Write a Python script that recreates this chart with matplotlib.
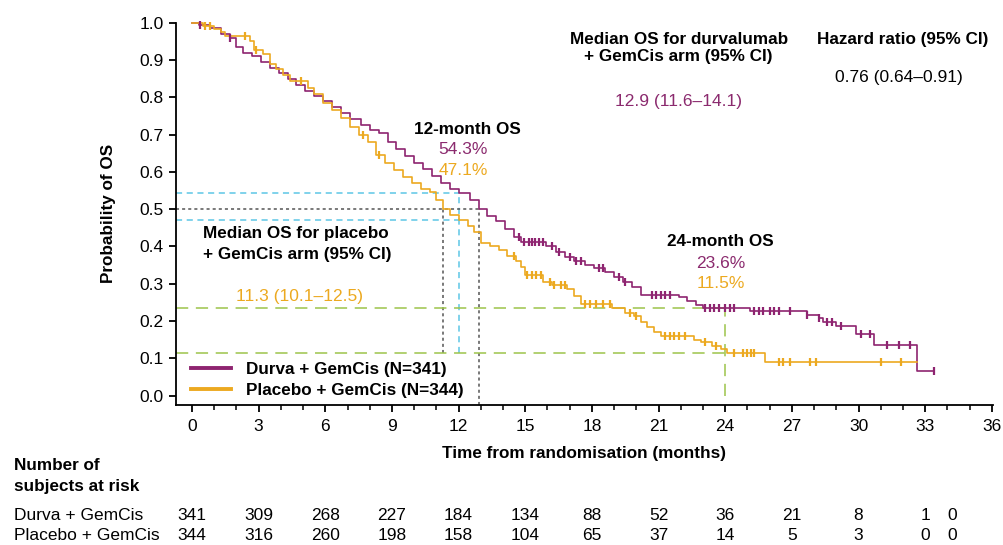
"""
Kaplan-Meier overall survival: durvalumab + GemCis vs placebo + GemCis,
with median / landmark reference lines and a number-at-risk table.
"""

import numpy as np
import matplotlib.pyplot as plt
from matplotlib.ticker import MultipleLocator
import matplotlib.transforms as mtransforms

plt.rcParams["font.family"] = ["Liberation Sans", "DejaVu Sans"]

PURPLE = "#8e2470"
PURPLE_TXT = "#8b2a6e"
ORANGE = "#eca920"
GREEN = "#9cc44a"
CYAN = "#5cc6e6"
GREY = "#555555"

FS = 12.5      # regular text
FSB = 12.3     # bold text

# --- KM step knots (time in months, survival probability) ---
durva_t = [0, 0.3, 0.8, 1.3, 1.7, 2.0, 2.3, 2.7, 3.1, 3.5, 3.9, 4.3, 4.7, 5.1, 5.5,
           5.9, 6.3, 6.7, 7.1, 7.6, 8.0, 8.4, 8.8, 9.2, 9.6, 10.0, 10.4, 10.8, 11.2,
           11.6, 12.0, 12.5, 12.9, 13.3, 13.7, 14.1, 14.5, 14.8, 15.95, 16.4, 16.8,
           17.2, 17.7, 18.1, 18.6, 19.0, 19.4, 19.8, 20.2, 21.9, 22.3, 22.7, 23.0,
           25.1, 27.7, 28.2, 28.4, 29.0, 29.9, 30.7, 32.65]
durva_s = [1.0, 0.994, 0.985, 0.97, 0.958, 0.935, 0.92, 0.91, 0.895, 0.878, 0.865,
           0.85, 0.832, 0.818, 0.803, 0.79, 0.775, 0.757, 0.742, 0.725, 0.713, 0.703,
           0.68, 0.66, 0.642, 0.625, 0.607, 0.588, 0.57, 0.553, 0.543, 0.525, 0.5,
           0.483, 0.467, 0.448, 0.425, 0.412, 0.4, 0.385, 0.372, 0.36, 0.35, 0.343,
           0.332, 0.318, 0.305, 0.29, 0.271, 0.265, 0.255, 0.243, 0.236, 0.226,
           0.215, 0.209, 0.197, 0.186, 0.165, 0.136, 0.066]
durva_end = 33.4
durva_cens = [0.35, 1.7, 14.7, 14.95, 15.15, 15.3, 15.45, 15.6, 15.8, 16.2, 16.5,
              17.0, 17.3, 17.5, 18.3, 18.5, 19.2, 19.5, 20.7, 20.9, 21.1, 21.3, 21.5,
              23.1, 23.3, 23.5, 23.7, 24.0, 24.2, 24.4, 25.3, 25.5, 25.7, 26.0, 26.2,
              26.4, 26.9, 27.7, 28.2, 28.6, 28.8, 29.2, 30.1, 30.5, 31.3, 31.8, 32.3,
              33.4]

pbo_t = [0, 0.5, 1.0, 1.3, 1.5, 2.6, 2.8, 3.2, 3.5, 3.8, 4.1, 4.4, 5.2, 5.5, 5.9,
         6.3, 6.7, 7.1, 7.5, 7.9, 8.3, 8.7, 9.1, 9.5, 9.9, 10.3, 10.7, 11.0, 11.3,
         11.6, 12.0, 12.4, 12.7, 13.0, 13.4, 13.8, 14.2, 14.6, 14.8, 15.0, 15.8,
         16.2, 16.9, 17.2, 17.5, 18.9, 19.5, 19.9, 20.2, 20.5, 20.8, 21.1, 22.6,
         22.9, 23.4, 23.8, 24.1, 25.8]
pbo_s = [1.0, 0.99, 0.982, 0.975, 0.963, 0.95, 0.928, 0.915, 0.89, 0.875, 0.86,
         0.843, 0.825, 0.81, 0.785, 0.765, 0.745, 0.72, 0.7, 0.68, 0.645, 0.625,
         0.605, 0.585, 0.57, 0.555, 0.545, 0.525, 0.5, 0.484, 0.471, 0.455, 0.44,
         0.41, 0.4, 0.39, 0.375, 0.36, 0.346, 0.324, 0.306, 0.297, 0.285, 0.266,
         0.245, 0.235, 0.222, 0.213, 0.197, 0.185, 0.172, 0.16, 0.15, 0.143, 0.133,
         0.125, 0.115, 0.09]
pbo_end = 32.65
pbo_cens = [0.6, 0.8, 2.4, 2.9, 4.9, 7.7, 8.4, 14.5, 15.1, 15.3, 15.5, 15.7, 16.1,
            16.3, 16.6, 16.8, 17.7, 17.9, 18.2, 18.5, 18.8, 19.7, 20.0, 21.3, 21.5,
            21.7, 21.9, 22.2, 23.1, 23.6, 24.4, 24.8, 25.0, 25.15, 25.3, 26.4, 26.6,
            26.9, 27.8, 28.1, 31.0, 31.9]

# summary statistics
durva_median = 12.9
pbo_median = 11.3
os12 = (0.543, 0.471)
os24 = (0.236, 0.115)

# number at risk
risk_times = [0, 3, 6, 9, 12, 15, 18, 21, 24, 27, 30, 33, 34.2]
durva_risk = [341, 309, 268, 227, 184, 134, 88, 52, 36, 21, 8, 1, 0]
pbo_risk = [344, 316, 260, 198, 158, 104, 65, 37, 14, 5, 3, 0, 0]

fig = plt.figure(figsize=(10.04, 5.45), dpi=100)
ax = fig.add_axes([0.1753, 0.2569, 0.8137, 0.7015])
ax.set_xlim(-0.72, 36.05)
ax.set_ylim(-0.025, 1.0)


def km_step(ax, t, s, t_end, cens, color, label):
    t = np.asarray(t)
    s = np.asarray(s)
    ax.step(np.append(t, t_end), np.append(s, s[-1]), where="post",
            color=color, lw=1.2, zorder=4, clip_on=False)
    c = np.asarray(cens)
    cy = s[np.searchsorted(t, c, side="right") - 1]
    ax.plot(c, cy, ls="none", marker="|", ms=6, mew=1.6, color=color,
            zorder=5, clip_on=False)
    ax.plot([], [], color=color, lw=2.8, label=label)


# reference lines
x0 = ax.get_xlim()[0]
dash = dict(lw=1.1, zorder=2)
ax.plot([x0, 12], [os12[0]] * 2, color=CYAN, ls=(0, (4, 3)), **dash)
ax.plot([x0, 12], [os12[1]] * 2, color=CYAN, ls=(0, (4, 3)), **dash)
ax.plot([12, 12], [os24[1], os12[0]], color=CYAN, ls=(0, (4, 3)), **dash)
ax.plot([x0, durva_median], [0.5, 0.5], color=GREY, ls=(0, (2, 2)), **dash)
ax.plot([pbo_median] * 2, [os24[1], 0.5], color=GREY, ls=(0, (2, 2)), **dash)
ax.plot([durva_median] * 2, [-0.025, 0.5], color=GREY, ls=(0, (2, 2)), **dash)
ax.plot([x0, 24], [os24[0]] * 2, color=GREEN, ls=(0, (8, 5)), **dash)
ax.plot([x0, 24], [os24[1]] * 2, color=GREEN, ls=(0, (8, 5)), **dash)
ax.plot([24, 24], [0, os24[0]], color=GREEN, ls=(0, (8, 5)), **dash)

km_step(ax, durva_t, durva_s, durva_end, durva_cens, PURPLE, "Durva + GemCis (N=341)")
km_step(ax, pbo_t, pbo_s, pbo_end, pbo_cens, ORANGE, "Placebo + GemCis (N=344)")

leg = ax.legend(loc="lower left", bbox_to_anchor=(0.0, -0.022), frameon=False,
                handlelength=2.3, handletextpad=0.9, labelspacing=0.35,
                prop=dict(size=FSB, weight="bold"))

# axes styling
for side in ("top", "right"):
    ax.spines[side].set_visible(False)
for side in ("left", "bottom"):
    ax.spines[side].set_linewidth(1.3)
ax.xaxis.set_major_locator(MultipleLocator(3))
ax.xaxis.set_minor_locator(MultipleLocator(1))
ax.yaxis.set_major_locator(MultipleLocator(0.1))
ax.tick_params(axis="both", which="major", labelsize=FS, width=1.3, length=5)
ax.tick_params(axis="x", which="minor", width=1.1, length=3.5)
ax.tick_params(axis="x", which="major", pad=5)
ax.tick_params(axis="y", which="major", pad=4)
ax.set_yticklabels([f"{v:.1f}" for v in ax.get_yticks()])
ax.set_ylabel("Probability of OS", fontsize=FSB, fontweight="bold", labelpad=17)
ax.set_xlabel("Time from randomisation (months)", fontsize=FSB, fontweight="bold",
              labelpad=9)

# annotations
bold = dict(fontsize=FSB, fontweight="bold", ha="center", va="center")
ax.text(21.9, 0.932, "Median OS for durvalumab\n+ GemCis arm (95% CI)",
        linespacing=1.2, **bold)
ax.text(21.9, 0.79, "12.9 (11.6\u201314.1)", color=PURPLE_TXT, fontsize=FS,
        ha="center", va="center")
ax.text(32.0, 0.956, "Hazard ratio (95% CI)", **bold)
ax.text(31.8, 0.852, "0.76 (0.64\u20130.91)", fontsize=FS, ha="center", va="center")

ax.text(12.4, 0.713, "12-month OS", **bold)
ax.text(12.2, 0.659, f"{os12[0] * 100:.1f}%", color=PURPLE_TXT, fontsize=FS,
        ha="center", va="center")
ax.text(12.2, 0.605, f"{os12[1] * 100:.1f}%", color=ORANGE, fontsize=FS,
        ha="center", va="center")

ax.text(23.8, 0.413, "24-month OS", **bold)
ax.text(23.8, 0.354, f"{os24[0] * 100:.1f}%", color=PURPLE_TXT, fontsize=FS,
        ha="center", va="center")
ax.text(23.8, 0.30, f"{os24[1] * 100:.1f}%", color=ORANGE, fontsize=FS,
        ha="center", va="center")

ax.text(0.5, 0.407, "Median OS for placebo\n+ GemCis arm (95% CI)", fontsize=FSB,
        fontweight="bold", ha="left", va="center", linespacing=1.45)
ax.text(4.86, 0.265, "11.3 (10.1\u201312.5)", color=ORANGE, fontsize=FS,
        ha="center", va="center")

# number at risk table
trans = mtransforms.blended_transform_factory(ax.transData, fig.transFigure)
fig.text(14 / 1004, 1 - 476 / 545, "Number of\nsubjects at risk", fontsize=FSB,
         fontweight="bold", ha="left", va="center", linespacing=1.5)
for row_y, name, counts in [(516, "Durva + GemCis", durva_risk),
                            (536, "Placebo + GemCis", pbo_risk)]:
    yf = 1 - row_y / 545
    fig.text(14 / 1004, yf, name, fontsize=FS, ha="left", va="center")
    for t, n in zip(risk_times, counts):
        ax.text(t, yf, str(n), transform=trans, fontsize=FS, ha="center",
                va="center", clip_on=False)

fig.savefig("out.png", dpi=100)
